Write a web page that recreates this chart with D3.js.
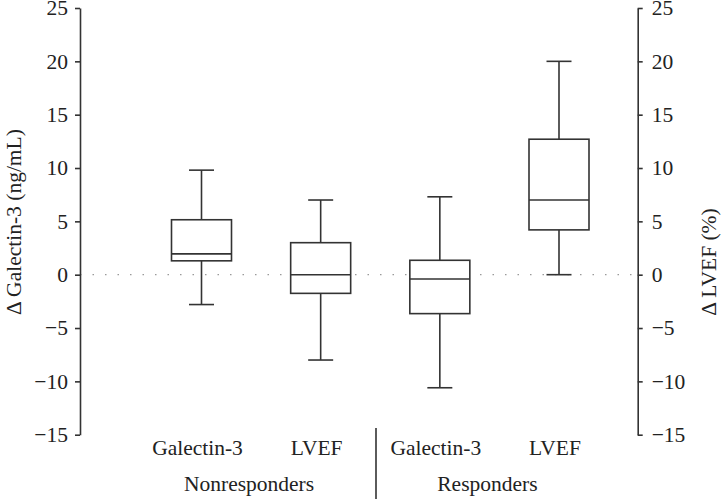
<!DOCTYPE html>
<html><head><meta charset="utf-8">
<script src="https://cdn.jsdelivr.net/npm/d3@7"></script>
<style>body{margin:0;background:#fff}svg{display:block}</style>
</head><body>
<script>
const categories = ["Galectin-3", "LVEF", "Galectin-3", "LVEF"];
const groups = ["Nonresponders", "Responders"];
const whiskerLow = [-2.8, -8.0, -10.6, 0.0];
const q1 = [1.3, -1.75, -3.65, 4.2];
const median = [1.95, 0.0, -0.4, 7.0];
const q3 = [5.15, 3.0, 1.35, 12.7];
const whiskerHigh = [9.8, 7.0, 7.3, 20.0];
const yTicks = [-15, -10, -5, 0, 5, 10, 15, 20, 25];

const W = 722, H = 499;
const svg = d3.select("body").append("svg").attr("width", W).attr("height", H);
const font = "Liberation Serif";
const fs = "21.5px";
const ink = "#333";

const yL = d3.scaleLinear().domain([-15, 25]).range([434.7, 8]);
const yR = d3.scaleLinear().domain([-15, 25]).range([434.7, 8]);
const x = d3.scalePoint().domain(d3.range(categories.length)).range([201.5, 559]);
const xLeft = 80, xRight = 637.7;
const boxW = 60, capW = 25;

svg.append("line").attr("x1", xLeft).attr("x2", xRight)
  .attr("y1", yL(0)).attr("y2", yL(0))
  .attr("stroke", "#9a9a9a").attr("stroke-width", 1.3).attr("stroke-dasharray", "1.5,11");

const axL = svg.append("g").attr("transform", `translate(${xLeft},0)`)
  .call(d3.axisLeft(yL).tickValues(yTicks).tickSize(5).tickPadding(7).tickSizeOuter(0));
const axR = svg.append("g").attr("transform", `translate(${xRight},0)`)
  .call(d3.axisRight(yR).tickValues(yTicks).tickSize(5).tickPadding(9).tickSizeOuter(0));
[axL, axR].forEach(a => {
  a.attr("font-family", null).attr("font-size", null);
  a.select(".domain").attr("stroke", ink).attr("stroke-width", 1.6);
  a.selectAll(".tick line").attr("stroke", ink).attr("stroke-width", 1.6);
  a.selectAll(".tick text").attr("fill", "#222").attr("font-family", font).attr("font-size", fs);
});

const data = categories.map((c, i) => ({i, lo: whiskerLow[i], q1: q1[i], med: median[i], q3: q3[i], hi: whiskerHigh[i]}));
const g = svg.append("g").attr("stroke", ink).attr("stroke-width", 1.6).attr("fill", "none");
data.forEach(d => {
  const cx = x(d.i);
  g.append("line").attr("x1", cx).attr("x2", cx).attr("y1", yL(d.hi)).attr("y2", yL(d.q3));
  g.append("line").attr("x1", cx).attr("x2", cx).attr("y1", yL(d.q1)).attr("y2", yL(d.lo));
  g.append("line").attr("x1", cx - capW / 2).attr("x2", cx + capW / 2).attr("y1", yL(d.hi)).attr("y2", yL(d.hi));
  g.append("line").attr("x1", cx - capW / 2).attr("x2", cx + capW / 2).attr("y1", yL(d.lo)).attr("y2", yL(d.lo));
  g.append("rect").attr("x", cx - boxW / 2).attr("width", boxW)
    .attr("y", yL(d.q3)).attr("height", yL(d.q1) - yL(d.q3)).attr("fill", "#fff");
  g.append("line").attr("x1", cx - boxW / 2).attr("x2", cx + boxW / 2).attr("y1", yL(d.med)).attr("y2", yL(d.med));
});

svg.append("g").selectAll("text").data(categories).join("text")
  .attr("x", (d, i) => x(i) - 4).attr("y", 455)
  .attr("text-anchor", "middle").attr("fill", "#222")
  .attr("font-family", font).attr("font-size", fs).text(d => d);

groups.forEach((gname, k) => {
  const mid = (x(2 * k) + x(2 * k + 1)) / 2 - 12;
  svg.append("text").attr("x", mid).attr("y", 490.5).attr("text-anchor", "middle")
    .attr("fill", "#222").attr("font-family", font).attr("font-size", fs).text(gname);
});
svg.append("line").attr("x1", 376).attr("x2", 376).attr("y1", 428).attr("y2", H)
  .attr("stroke", ink).attr("stroke-width", 1.6);

svg.append("text").attr("transform", `translate(21,222) rotate(-90)`).attr("text-anchor", "middle")
  .attr("fill", "#222").attr("font-family", font).attr("font-size", fs).text("Δ Galectin-3 (ng/mL)");
svg.append("text").attr("transform", `translate(716,262) rotate(-90)`).attr("text-anchor", "middle")
  .attr("fill", "#222").attr("font-family", font).attr("font-size", fs).text("Δ LVEF (%)");
</script>
</body></html>
